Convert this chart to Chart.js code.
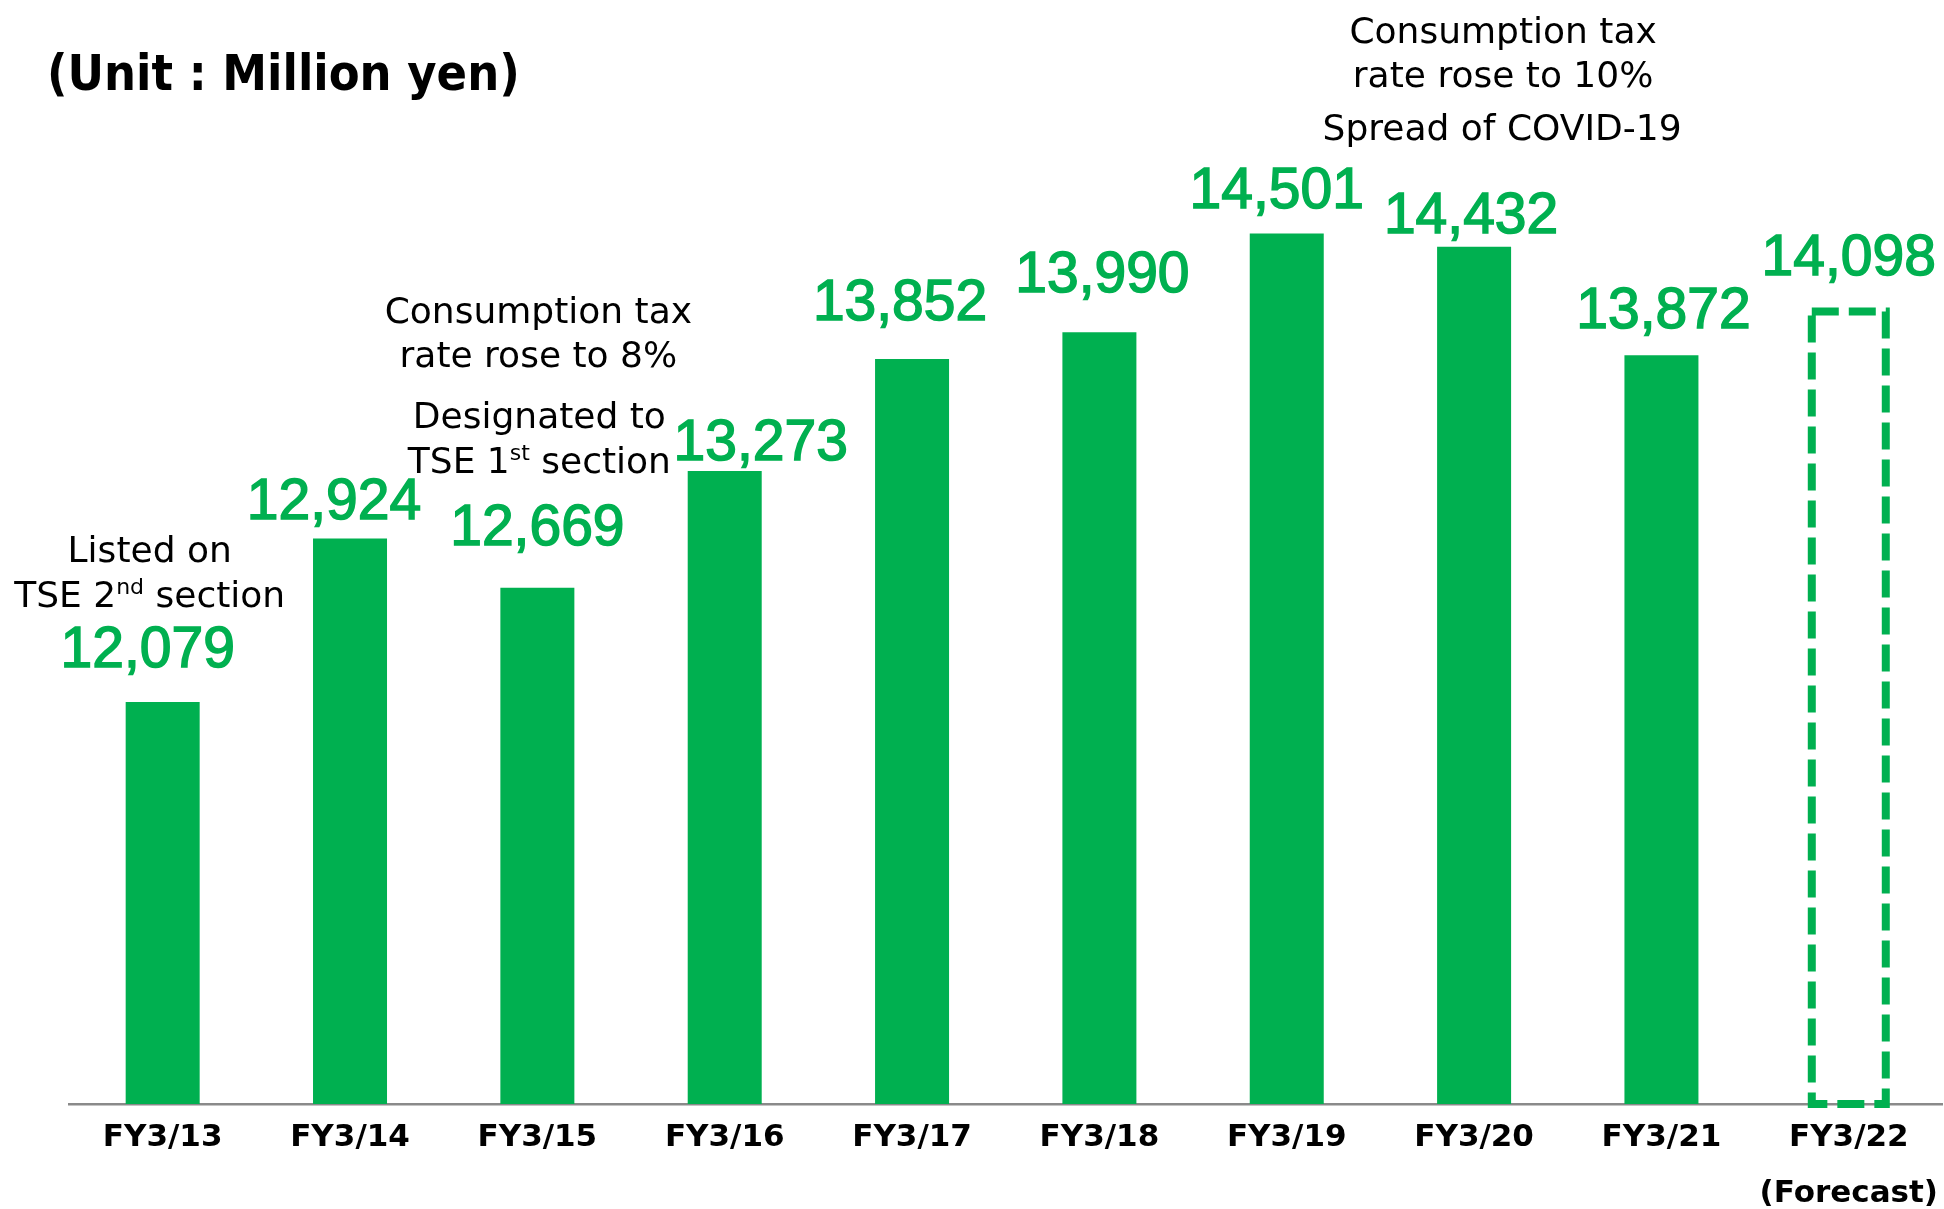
<!DOCTYPE html>
<html>
<head>
<meta charset="utf-8">
<script src="https://cdn.jsdelivr.net/npm/chart.js@4.4.1/dist/chart.umd.min.js"></script>
<style>
  html, body { margin: 0; padding: 0; background: #ffffff; }
  canvas { display: block; }
</style>
</head>
<body>
<canvas id="salesChart" width="1944" height="1209"></canvas>
<script>
const FISCAL_YEARS = ["FY3/13", "FY3/14", "FY3/15", "FY3/16", "FY3/17", "FY3/18", "FY3/19", "FY3/20", "FY3/21", "FY3/22"];
const NET_SALES = [12079, 12924, 12669, 13273, 13852, 13990, 14501, 14432, 13872, 14098];
const FORECAST_INDEX = 9;
const FORECAST_NOTE = "(Forecast)";
const Y_MIN = 10000;
const Y_MAX = 15000;
const UNIT_TITLE = "(Unit : Million yen)";

// event notes: lines are lists of [text, isSuperscript] pieces
const EVENT_NOTES = [
  { at: 0, lines: [[["Listed on", false]], [["TSE 2", false], ["nd", true], [" section", false]]] },
  { at: 2, lines: [[["Consumption tax", false]], [["rate rose to 8%", false]]] },
  { at: 2, lines: [[["Designated to", false]], [["TSE 1", false], ["st", true], [" section", false]]] },
  { at: 7, lines: [[["Consumption tax", false]], [["rate rose to 10%", false]]] },
  { at: 7, lines: [[["Spread of COVID-19", false]]] },
];

const GREEN = "#00b050";

// hand-placed offsets of the value labels, [dx, gap above bar top]
const LABEL_SHIFT = [[-15, 35], [-16, 19], [0, 43], [36, 11], [-12, 39], [3, 40], [-10, 26], [-3, 14], [2, 27], [0, 36]];
// note placement: dx from the category centre and first baseline, line step
const NOTE_PLACE = [
  { dx: -13, y: 562, step: 45 },
  { dx: 1, y: 323, step: 44 },
  { dx: 2, y: 428, step: 45 },
  { dx: 29, y: 43, step: 44 },
  { dx: 28, y: 140, step: 44 },
];

const NOTE_FONT = "36px 'DejaVu Sans'";
const SUP_FONT = "22px 'DejaVu Sans'";

function pieceWidth(ctx, pieces) {
  let w = 0;
  for (const [text, sup] of pieces) {
    ctx.font = sup ? SUP_FONT : NOTE_FONT;
    w += ctx.measureText(text).width;
  }
  return w;
}

function drawNoteLine(ctx, pieces, cx, baseline) {
  let x = cx - pieceWidth(ctx, pieces) / 2;
  for (const [text, sup] of pieces) {
    ctx.font = sup ? SUP_FONT : NOTE_FONT;
    ctx.fillText(text, x, sup ? baseline - 13 : baseline);
    x += ctx.measureText(text).width;
  }
}

const decorPlugin = {
  id: "decor",
  afterDatasetsDraw(chart) {
    const ctx = chart.ctx;
    const meta = chart.getDatasetMeta(0);

    // dashed outline for the forecast year
    const fc = meta.data[FORECAST_INDEX];
    const half = fc.width / 2;
    ctx.save();
    ctx.strokeStyle = GREEN;
    ctx.lineWidth = 8;
    ctx.setLineDash([27, 10]);
    ctx.strokeRect(fc.x - half, fc.y, fc.width, fc.base - fc.y);
    ctx.restore();

    // value labels
    ctx.save();
    ctx.fillStyle = GREEN;
    ctx.strokeStyle = GREEN;
    ctx.lineWidth = 1.5;
    ctx.font = "57px 'Liberation Sans', Arial, sans-serif";
    ctx.textAlign = "center";
    ctx.textBaseline = "alphabetic";
    meta.data.forEach((bar, i) => {
      const [dx, gap] = LABEL_SHIFT[i];
      const text = NET_SALES[i].toLocaleString("en-US");
      ctx.fillText(text, bar.x + dx, bar.y - gap);
      ctx.strokeText(text, bar.x + dx, bar.y - gap);
    });
    ctx.restore();
  },
  afterDraw(chart) {
    const ctx = chart.ctx;
    const xScale = chart.scales.x;
    ctx.save();
    ctx.fillStyle = "#000000";
    ctx.textAlign = "left";
    ctx.textBaseline = "alphabetic";
    ctx.font = "bold 50px 'DejaVu Sans Condensed', 'DejaVu Sans', sans-serif";
    ctx.fillText(UNIT_TITLE, 47, 90);

    EVENT_NOTES.forEach((note, n) => {
      const place = NOTE_PLACE[n];
      const cx = xScale.getPixelForValue(note.at) + place.dx;
      note.lines.forEach((pieces, k) => {
        drawNoteLine(ctx, pieces, cx, place.y + k * place.step);
      });
    });
    ctx.restore();
  },
};

new Chart(document.getElementById("salesChart"), {
  type: "bar",
  data: {
    labels: FISCAL_YEARS,
    datasets: [
      {
        data: NET_SALES,
        base: Y_MIN,
        backgroundColor: NET_SALES.map((_, i) => (i === FORECAST_INDEX ? "rgba(0,0,0,0)" : GREEN)),
        borderWidth: 0,
        barPercentage: 0.395,
        categoryPercentage: 1,
      },
    ],
  },
  options: {
    responsive: false,
    animation: false,
    devicePixelRatio: 1,
    layout: { padding: { top: 137, left: 69, right: 0, bottom: 0 } },
    plugins: {
      legend: { display: false },
      tooltip: { enabled: false },
    },
    scales: {
      x: {
        offset: true,
        grid: { display: false, drawTicks: false },
        border: { display: true, color: "#8a8a8a", width: 2.5 },
        ticks: {
          color: "#000000",
          padding: 6,
          maxRotation: 0,
          autoSkip: false,
          font: { family: "'DejaVu Sans'", size: 31, weight: "bold", lineHeight: 1.8 },
          callback: (value, index) => (index === FORECAST_INDEX ? [FISCAL_YEARS[index], FORECAST_NOTE] : FISCAL_YEARS[index]),
        },
        afterFit(scale) {
          scale.height = 105;
        },
      },
      y: {
        display: false,
        min: Y_MIN,
        max: Y_MAX,
      },
    },
  },
  plugins: [decorPlugin],
});
</script>
</body>
</html>
